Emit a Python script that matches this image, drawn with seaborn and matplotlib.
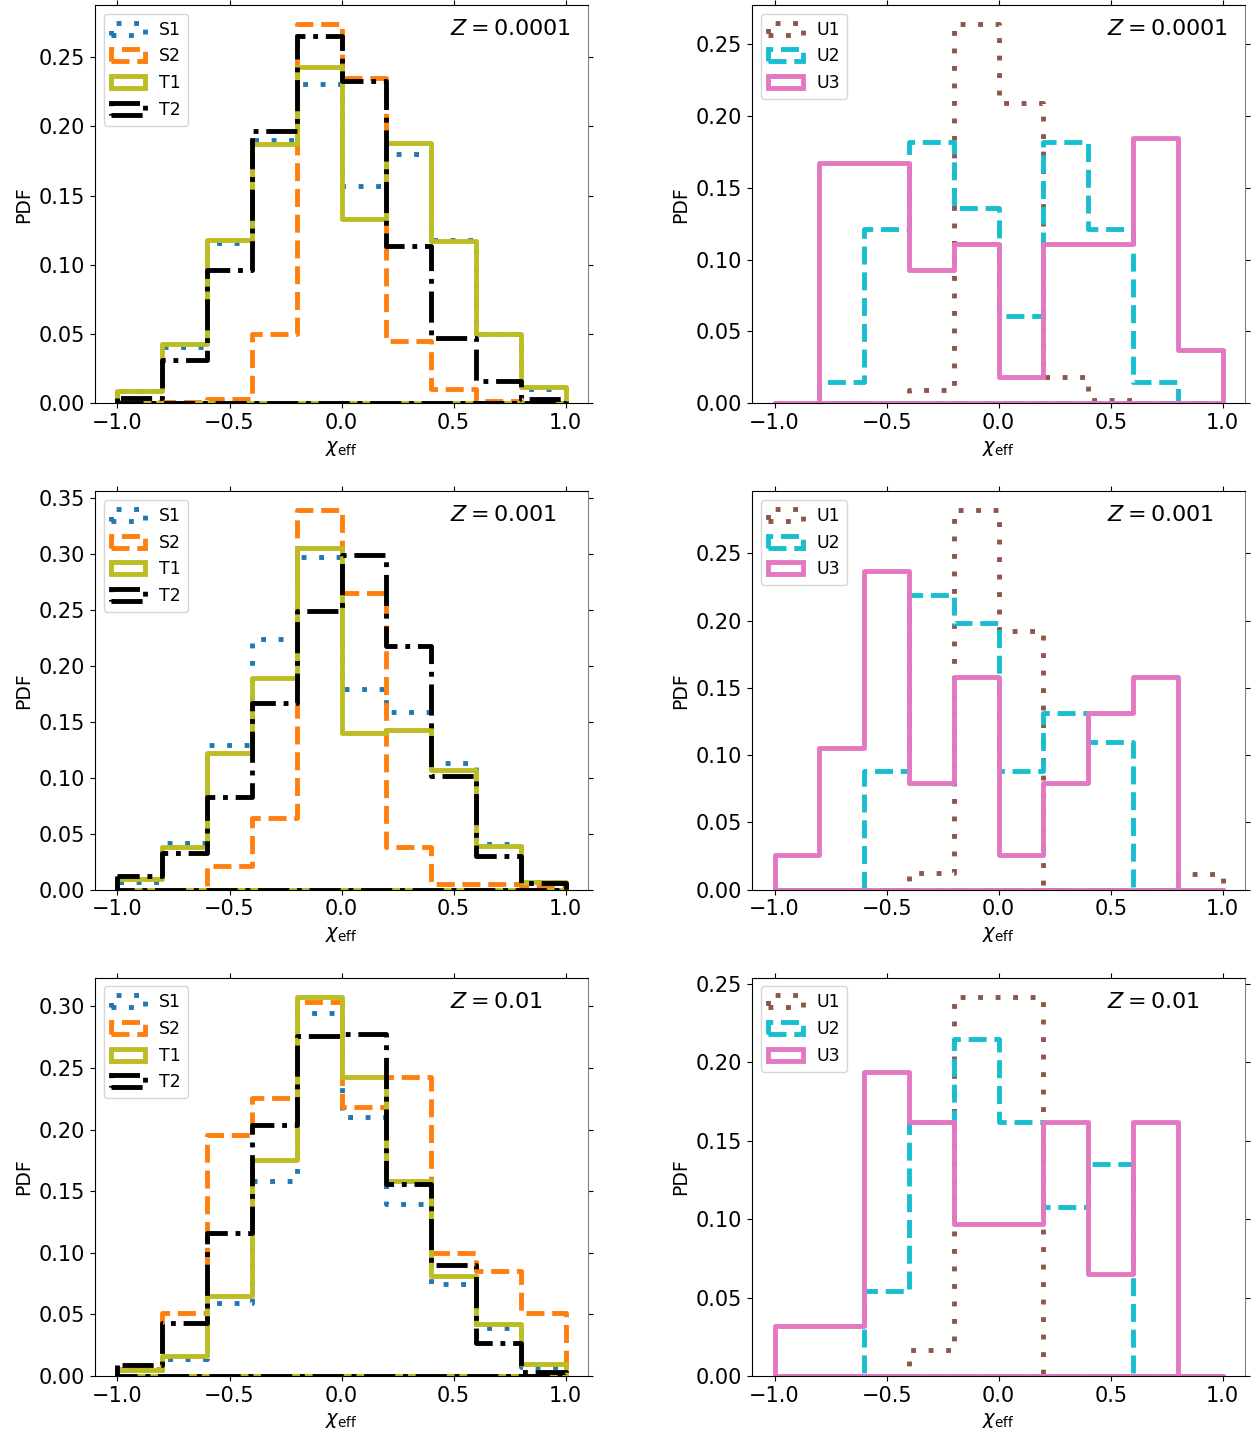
import numpy as np
import matplotlib
matplotlib.use("Agg")
import matplotlib.pyplot as plt
from matplotlib.patches import Patch
import seaborn as sns

# %%
# chi_eff bins (width 0.2 between -1 and 1)
bin_edges = list(np.linspace(-1, 1, 11))
bin_mid = [0.5 * (a + b) for a, b in zip(bin_edges[:-1], bin_edges[1:])]
metallicities = ['0.0001', '0.001', '0.01']

# %%
# fraction per bin
# Z = 0.0001
s1_z1 = [0.009, 0.041, 0.116, 0.190, 0.231, 0.157, 0.180, 0.118, 0.050, 0.010]
s2_z1 = [0.001, 0.001, 0.003, 0.050, 0.274, 0.235, 0.045, 0.010, 0.002, 0.000]
t1_z1 = [0.009, 0.043, 0.118, 0.187, 0.243, 0.133, 0.188, 0.117, 0.050, 0.012]
t2_z1 = [0.004, 0.031, 0.096, 0.197, 0.265, 0.233, 0.114, 0.047, 0.016, 0.003]
u1_z1 = [0.000, 0.000, 0.000, 0.0095, 0.264, 0.209, 0.018, 0.002, 0.000, 0.000]
u2_z1 = [0.000, 0.015, 0.121, 0.182, 0.136, 0.061, 0.182, 0.121, 0.015, 0.000]
u3_z1 = [0.000, 0.167, 0.167, 0.093, 0.111, 0.018, 0.111, 0.111, 0.185, 0.037]

# Z = 0.001
s1_z2 = [0.007, 0.042, 0.129, 0.224, 0.297, 0.179, 0.159, 0.113, 0.041, 0.007]
s2_z2 = [0.000, 0.000, 0.021, 0.064, 0.339, 0.265, 0.038, 0.005, 0.005, 0.002]
t1_z2 = [0.0095, 0.038, 0.122, 0.189, 0.305, 0.140, 0.143, 0.107, 0.039, 0.0065]
t2_z2 = [0.0125, 0.033, 0.083, 0.167, 0.249, 0.299, 0.218, 0.102, 0.030, 0.006]
u1_z2 = [0.000, 0.000, 0.000, 0.0124, 0.282, 0.192, 0.000, 0.000, 0.000, 0.012]
u2_z2 = [0.000, 0.000, 0.088, 0.219, 0.198, 0.088, 0.131, 0.110, 0.000, 0.000]
u3_z2 = [0.026, 0.105, 0.237, 0.079, 0.158, 0.026, 0.079, 0.131, 0.158, 0.000]

# Z = 0.01
s1_z3 = [0.005, 0.014, 0.059, 0.158, 0.295, 0.210, 0.140, 0.075, 0.039, 0.007]
s2_z3 = [0.006, 0.051, 0.196, 0.226, 0.304, 0.218, 0.243, 0.100, 0.085, 0.051]
t1_z3 = [0.005, 0.016, 0.065, 0.175, 0.308, 0.243, 0.158, 0.081, 0.042, 0.010]
t2_z3 = [0.009, 0.043, 0.116, 0.204, 0.276, 0.278, 0.156, 0.090, 0.027, 0.0035]
u1_z3 = [0.000, 0.000, 0.000, 0.0166, 0.242, 0.242, 0.000, 0.000, 0.000, 0.000]
u2_z3 = [0.000, 0.000, 0.054, 0.162, 0.215, 0.162, 0.108, 0.135, 0.000, 0.000]
u3_z3 = [0.032, 0.032, 0.194, 0.162, 0.097, 0.097, 0.162, 0.065, 0.162, 0.000]

# %%
left_col = [
    {'S1': s1_z1, 'S2': s2_z1, 'T1': t1_z1, 'T2': t2_z1},
    {'S1': s1_z2, 'S2': s2_z2, 'T1': t1_z2, 'T2': t2_z2},
    {'S1': s1_z3, 'S2': s2_z3, 'T1': t1_z3, 'T2': t2_z3},
]
right_col = [
    {'U1': u1_z1, 'U2': u2_z1, 'U3': u3_z1},
    {'U1': u1_z2, 'U2': u2_z2, 'U3': u3_z2},
    {'U1': u1_z3, 'U2': u2_z3, 'U3': u3_z3},
]

dotted = (0, (1, 2.6))
styles = {
    'S1': ('tab:blue', dotted),
    'S2': ('tab:orange', '--'),
    'T1': ('tab:olive', '-'),
    'T2': ('black', '-.'),
    'U1': ('tab:brown', dotted),
    'U2': ('tab:cyan', '--'),
    'U3': ('tab:pink', '-'),
}
lw = 3.5

# %%
fig, axes = plt.subplots(3, 2, figsize=(12.59, 14.39))
plt.subplots_adjust(left=0.0755, right=0.989, top=0.9965, bottom=0.0438,
                    wspace=0.333, hspace=0.221)

for row in range(3):
    for col, groups in enumerate([left_col, right_col]):
        ax = axes[row, col]
        handles = []
        for name, vals in groups[row].items():
            color, ls = styles[name]
            sns.histplot(x=bin_mid, weights=vals, bins=bin_edges, element='step',
                         fill=True, color=color, facecolor='none', edgecolor=color,
                         linestyle=ls, linewidth=lw, ax=ax)
            # legend box drawn like a step-histogram patch
            handles.append(Patch(facecolor='none', edgecolor=color, linestyle=ls,
                                 linewidth=lw, label=name))
        ax.set_xlim(-1.1, 1.1)
        ax.set_xticks([-1.0, -0.5, 0.0, 0.5, 1.0])
        ax.tick_params(top=True, right=True, labelsize=15)
        ax.spines['right'].set_color('0.5')
        ax.set_xlabel(r'$\chi_{\rm eff}$', fontsize=14)
        ax.set_ylabel('PDF', fontsize=13.5)
        ax.text(0.72, 0.94, r'$Z = ' + metallicities[row] + '$', transform=ax.transAxes,
                fontsize=16, va='center')
        ax.legend(handles=handles, loc='upper left', fontsize=12.5)

fig.savefig('out.png', dpi=100)
